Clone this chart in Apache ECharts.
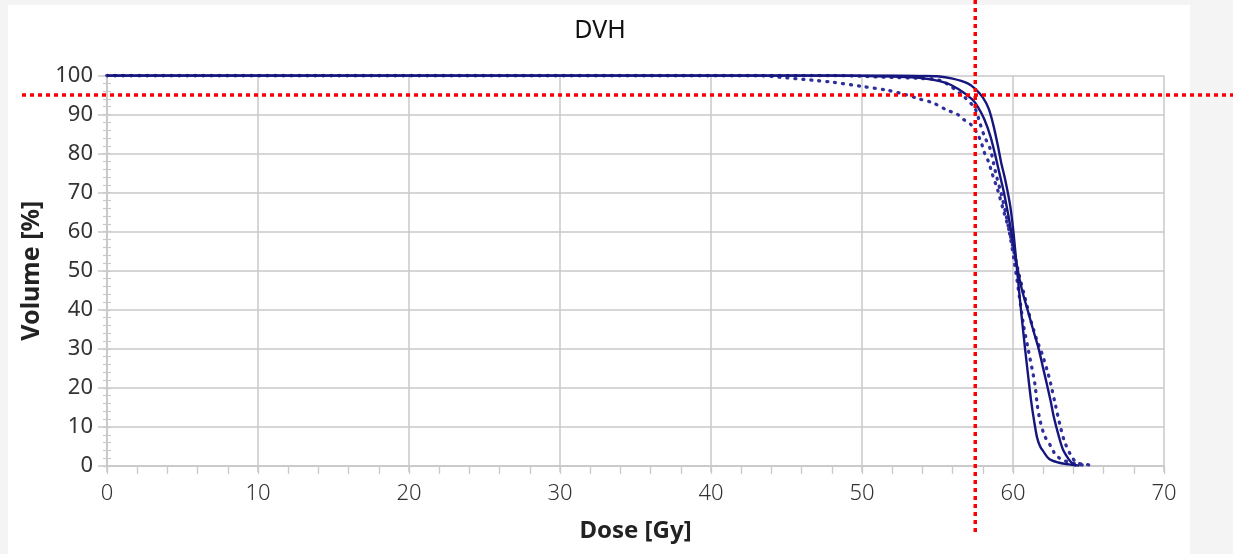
<!DOCTYPE html>
<html>
<head>
<meta charset="utf-8">
<script src="https://cdn.jsdelivr.net/npm/echarts@6/dist/echarts.min.js"></script>
<style>
html,body{margin:0;padding:0;background:#f4f4f4;}
#panel{position:absolute;left:8px;top:5px;width:1182px;height:549px;background:#ffffff;}
#main{position:absolute;left:0;top:0;width:1233px;height:554px;}
</style>
</head>
<body>
<div id="panel"></div>
<div id="main"></div>
<script>
// DVH curves: [dose Gy, volume %]
var solidA = [[0,100],[52,100],[54,99.9],[55,99.8],[56,99.2],[57,98.0],[57.5,96.6],[58,94.4],[58.4,91.4],[58.7,87.3],[59,82],[59.2,78],[59.5,73],[59.8,67],[60,61],[60.2,53],[60.5,41],[60.8,30],[61.05,21.5],[61.2,16.7],[61.4,11.5],[61.6,7.2],[61.8,5],[62,3.8],[62.4,1.8],[63,0.9],[63.7,0.4],[64.2,0.1]];
var solidB = [[0,100],[48,100],[50,99.9],[52,99.7],[53.8,99.4],[55.5,98.2],[56.4,96.5],[57.3,93.9],[57.7,91.8],[58.1,88.8],[58.5,84.5],[58.8,80],[59.1,75],[59.4,70],[59.7,64],[60,57.5],[60.3,50.5],[60.6,45],[61,39.5],[61.4,34],[61.7,30],[62,25],[62.3,20],[62.5,16.5],[62.7,12.6],[63,8.1],[63.3,4.3],[63.7,1.7],[64,0.4],[64.4,0.1]];
var dottedA = [[0,100],[43,100],[45,99.4],[47,98.7],[48,98.3],[50,97.2],[51.7,96.2],[52.7,95.3],[53.8,94],[54.7,93],[55.6,91.2],[56.3,90.1],[56.7,88.8],[57.2,87.5],[57.6,85.4],[57.9,82.8],[58.1,80.3],[58.4,77.7],[58.6,75.1],[59,70.5],[59.4,65],[59.7,61],[60,56],[60.4,49],[60.8,43],[61.2,37],[61.6,32],[61.9,29],[62.3,24],[62.5,21],[62.8,15.8],[63.1,10.7],[63.4,6.4],[63.8,3.0],[64.2,0.9],[64.8,0.4],[65.4,0.2]];
var dottedB = [[0,100],[48,100],[50,99.8],[52,99.5],[53.6,99.3],[55.2,98.7],[56.8,94.4],[57.5,91.4],[57.8,87.9],[58.1,84.5],[58.5,81.1],[58.7,77.7],[58.9,74.3],[59.2,70],[59.5,65],[59.8,59],[60.1,52],[60.4,44],[60.7,36],[61,30],[61.45,21],[61.6,15.8],[61.8,11.5],[62.1,7.7],[62.5,5.1],[62.8,3.0],[63.2,1.7],[63.8,0.9],[64.4,0.4],[64.8,0.1]];

// reference lines
var refDose = 57.5;
var refVolume = 95;

var gridCol = '#c9c9c9';
var labelFont = 'Noto Sans';

var chart = echarts.init(document.getElementById('main'));

function lineSeries(data, dotted){
	return {
		type: 'line',
		data: data,
		showSymbol: false,
		smooth: 0.3,
		silent: true,
		lineStyle: dotted ? {
			color: '#30309c',
			width: 3.3,
			type: [1, 7],
			cap: 'round'
		} : {
			color: '#16167f',
			width: 2.4
		}
	};
}

var option = {
	animation: false,
	title: {
		text: 'DVH',
		left: 595,
		textAlign: 'center',
		top: 13,
		textStyle: {fontFamily: labelFont, fontSize: 25, fontWeight: 'normal', color: '#111'}
	},
	grid: {left: 107, right: 69, top: 75.5, bottom: 88},
	xAxis: [
		{   // main bottom axis
			type: 'value', min: 0, max: 70, interval: 10,
			offset: 4,
			name: 'Dose [Gy]', nameLocation: 'middle', nameGap: 49,
			nameTextStyle: {fontFamily: labelFont, fontSize: 24, fontWeight: 'bold', color: '#222'},
			axisLine: {show: true, lineStyle: {color: gridCol, width: 1.5}},
			axisTick: {show: true, length: 6, lineStyle: {color: gridCol, width: 1.5}},
			axisLabel: {fontFamily: labelFont, fontSize: 22, fontWeight: 300, color: '#333', margin: 13},
			splitLine: {show: true, lineStyle: {color: gridCol, width: 1.5}}
		},
		{   // minor ticks bottom
			type: 'value', min: 0, max: 70, interval: 2, offset: 4,
			axisLine: {show: false},
			axisTick: {show: true, inside: true, length: 8, lineStyle: {color: gridCol, width: 1.2}},
			axisLabel: {show: false}, splitLine: {show: false}
		},
		{   // top frame
			type: 'value', min: 0, max: 70, interval: 2, position: 'top', offset: 3,
			axisLine: {show: true, lineStyle: {color: gridCol, width: 1.5}},
			axisTick: {show: true, inside: true, length: 7, lineStyle: {color: gridCol, width: 1.2}},
			axisLabel: {show: false}, splitLine: {show: false}
		}
	],
	yAxis: [
		{   // main left axis
			type: 'value', min: 0, max: 100, interval: 10,
			name: 'Volume [%]', nameLocation: 'middle', nameGap: 62, nameRotate: 90,
			nameTextStyle: {fontFamily: labelFont, fontSize: 25, fontWeight: 'bold', color: '#222'},
			axisLine: {show: true, lineStyle: {color: gridCol, width: 1.5}},
			axisTick: {show: true, length: 9, lineStyle: {color: gridCol, width: 1.5}},
			axisLabel: {fontFamily: labelFont, fontSize: 22, color: '#333', margin: 14},
			splitLine: {show: true, lineStyle: {color: gridCol, width: 1.5}}
		},
		{   // minor ticks left
			type: 'value', min: 0, max: 100, interval: 2, position: 'left',
			axisLine: {show: false},
			axisTick: {show: true, inside: true, length: 4, lineStyle: {color: gridCol, width: 1.2}},
			axisLabel: {show: false}, splitLine: {show: false}
		},
		{   // right frame
			type: 'value', min: 0, max: 100, interval: 2, position: 'right',
			axisLine: {show: true, lineStyle: {color: gridCol, width: 1.5}},
			axisTick: {show: true, inside: true, length: 4, lineStyle: {color: gridCol, width: 1.2}},
			axisLabel: {show: false}, splitLine: {show: false}
		}
	],
	series: [
		lineSeries(dottedA, true),
		lineSeries(dottedB, true),
		lineSeries(solidB, false),
		lineSeries(solidA, false)
	]
};
chart.setOption(option);

// red dotted reference lines, placed through the chart's scales
var p = chart.convertToPixel({gridIndex: 0}, [refDose, refVolume]);
var redStyle = {stroke: '#ff0000', lineWidth: 3.5, lineDash: [4, 4]};
chart.setOption({
	graphic: [
		{type: 'line', z: 100, shape: {x1: p[0], y1: 0, x2: p[0], y2: 536}, style: redStyle, silent: true},
		{type: 'line', z: 100, shape: {x1: 22, y1: p[1], x2: 1233, y2: p[1]}, style: redStyle, silent: true}
	]
});
</script>
</body>
</html>
